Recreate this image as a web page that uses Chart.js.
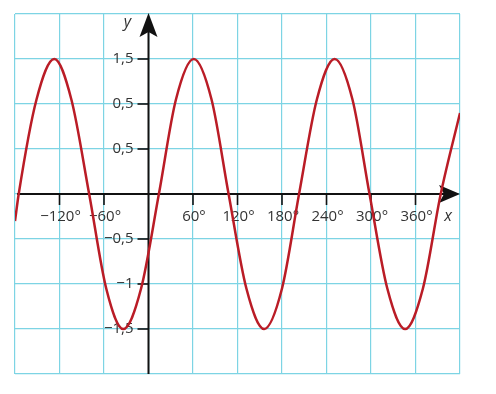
<!DOCTYPE html>
<html>
<head>
<meta charset="utf-8">
<script src="https://cdn.jsdelivr.net/npm/chart.js@4"></script>
<style>
  html, body { margin: 0; padding: 0; background: #fff; }
  #wrap { width: 496px; height: 394px; position: relative; }
</style>
</head>
<body>
<div id="wrap"><canvas id="sineChart"></canvas></div>
<script>
// values (x in degrees)
const xDeg = [-180, -175, -151, -127, -104, -80, -57, -34, -10, 14, 37, 61, 85, 108, 132, 156, 180, 203, 227, 251, 275, 298, 322, 346, 370, 394, 420];
const yVal = [-0.3, 0, 1.05, 1.5, 1.05, 0, -1.05, -1.5, -1.05, 0, 1.05, 1.5, 1.05, 0, -1.05, -1.5, -1.05, 0, 1.05, 1.5, 1.05, 0, -1.05, -1.5, -1.05, 0, 0.9];

const xTickValues = [-120, -60, 60, 120, 180, 240, 300, 360];
const xTickLabels = ["\u2212120°", "\u221260°", "60°", "120°", "180°", "240°", "300°", "360°"];
const yTickValues = [1.5, 1, 0.5, -0.5, -1, -1.5];
const yTickLabels = ["1,5", "0,5", "0,5", "\u22120,5", "\u22121", "\u22121,5"];

const gridColor = "rgb(125, 212, 228)";
const curveColor = "rgb(186, 28, 38)";
const inkColor = "#111";
const labelColor = "#333";

const axesPlugin = {
  id: "axes",
  beforeDatasetsDraw(chart) {
    const { ctx, chartArea: area, scales } = chart;
    const x0 = scales.x.getPixelForValue(0);
    const y0 = scales.y.getPixelForValue(0);
    ctx.save();
    ctx.strokeStyle = inkColor;
    ctx.fillStyle = inkColor;
    ctx.lineWidth = 2;

    // x axis
    ctx.beginPath();
    ctx.moveTo(area.left + 2, y0);
    ctx.lineTo(area.right - 8, y0);
    ctx.stroke();
    ctx.beginPath();
    ctx.moveTo(area.right, y0);
    ctx.lineTo(area.right - 21, y0 - 9);
    ctx.lineTo(area.right - 16, y0);
    ctx.lineTo(area.right - 21, y0 + 9);
    ctx.closePath();
    ctx.fill();

    // y axis
    ctx.beginPath();
    ctx.moveTo(x0, area.bottom);
    ctx.lineTo(x0, area.top + 8);
    ctx.stroke();
    ctx.beginPath();
    ctx.moveTo(x0, area.top - 1);
    ctx.lineTo(x0 - 9, area.top + 23);
    ctx.lineTo(x0, area.top + 18);
    ctx.lineTo(x0 + 9, area.top + 23);
    ctx.closePath();
    ctx.fill();

    // tick marks
    ctx.lineWidth = 1.6;
    xTickValues.forEach((v) => {
      const px = scales.x.getPixelForValue(v);
      ctx.beginPath();
      ctx.moveTo(px, y0);
      ctx.lineTo(px, y0 + 11);
      ctx.stroke();
    });
    yTickValues.forEach((v) => {
      const py = scales.y.getPixelForValue(v);
      ctx.beginPath();
      ctx.moveTo(x0 - 11, py);
      ctx.lineTo(x0, py);
      ctx.stroke();
    });

    // tick labels
    ctx.fillStyle = labelColor;
    ctx.font = "15px 'Open Sans'";
    ctx.textBaseline = "middle";
    ctx.textAlign = "center";
    xTickValues.forEach((v, i) => {
      ctx.fillText(xTickLabels[i], scales.x.getPixelForValue(v) + 1, y0 + 23);
    });
    ctx.textAlign = "right";
    yTickValues.forEach((v, i) => {
      ctx.fillText(yTickLabels[i], x0 - 15, scales.y.getPixelForValue(v));
    });

    // axis names
    ctx.font = "italic 16px 'Open Sans'";
    ctx.textAlign = "center";
    ctx.fillText("x", area.right - 12, y0 + 22);
    ctx.fillText("y", x0 - 21, area.top + 8);
    ctx.restore();
  },
};

new Chart(document.getElementById("sineChart"), {
  type: "line",
  data: {
    datasets: [
      {
        data: xDeg.map((x, i) => ({ x, y: yVal[i] })),
        borderColor: curveColor,
        borderWidth: 2.5,
        pointRadius: 0,
        cubicInterpolationMode: "monotone",
        fill: false,
      },
    ],
  },
  options: {
    responsive: true,
    maintainAspectRatio: false,
    animation: false,
    layout: { padding: { left: 15, right: 36, top: 14, bottom: 20 } },
    plugins: { legend: { display: false }, tooltip: { enabled: false } },
    scales: {
      x: {
        type: "linear",
        min: -180,
        max: 420,
        ticks: { stepSize: 60, display: false },
        grid: { color: gridColor, lineWidth: 1.2, drawTicks: false },
        border: { display: false },
      },
      y: {
        min: -2,
        max: 2,
        ticks: { stepSize: 0.5, display: false },
        grid: { color: gridColor, lineWidth: 1.2, drawTicks: false },
        border: { display: false },
      },
    },
  },
  plugins: [axesPlugin],
});
</script>
</body>
</html>
